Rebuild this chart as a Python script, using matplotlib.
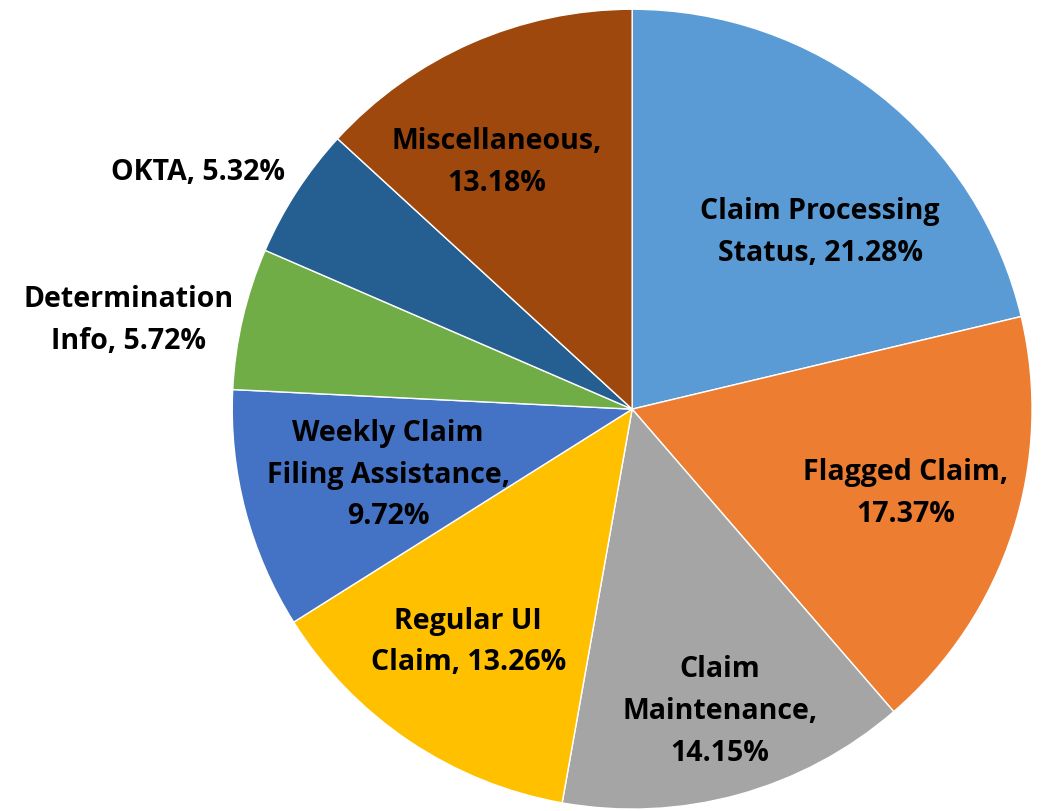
import matplotlib
matplotlib.use("Agg")
import matplotlib.pyplot as plt

categories = ["Claim Processing\nStatus", "Flagged Claim,", "Claim\nMaintenance,",
              "Regular UI\nClaim", "Weekly Claim\nFiling Assistance,",
              "Determination\nInfo", "OKTA", "Miscellaneous,"]
values = [21.28, 17.37, 14.15, 13.26, 9.72, 5.72, 5.32, 13.18]
colors = ["#5B9BD5", "#ED7D31", "#A5A5A5", "#FFC000", "#4472C4",
          "#70AD47", "#255E91", "#9E480E"]

# label spot for each slice (data units, radius 1) and the separator before the %
label_pos = [(0.47, 0.445), (0.683, -0.208), (0.22, -0.753), (-0.41, -0.58),
             (-0.61, -0.1625), (-1.26, 0.225), (-1.085, 0.595), (-0.3375, 0.62)]
sep = [", ", "\n", "\n", ", ", "\n", ", ", ", ", "\n"]

plt.rcParams['font.family'] = ['Open Sans', 'DejaVu Sans']

fig = plt.figure(figsize=(10.41, 8.12), dpi=100)
ax = fig.add_axes([0.223, 0.0024, 0.7685, 0.985])
ax.pie(values, colors=colors, startangle=90, counterclock=False,
       wedgeprops=dict(edgecolor="white", linewidth=1.0))
ax.set_xlim(-1, 1)
ax.set_ylim(-1, 1)
ax.set_aspect("equal")

for name, v, (x, y), s in zip(categories, values, label_pos, sep):
    ax.text(x, y, f"{name}{s}{v:.2f}%", ha="center", va="center",
            fontsize=20.5, fontweight="bold", color="black",
            linespacing=1.58, clip_on=False)

fig.savefig("out.png", dpi=100)
